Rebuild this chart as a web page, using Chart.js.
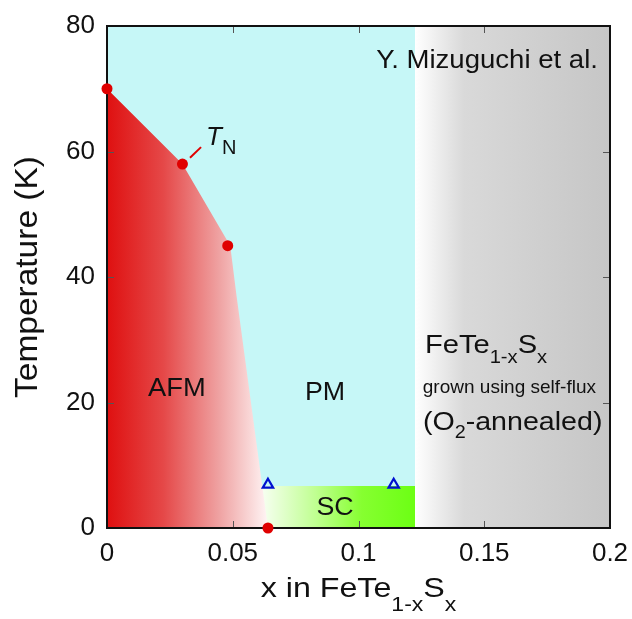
<!DOCTYPE html>
<html>
<head>
<meta charset="utf-8">
<script src="https://cdn.jsdelivr.net/npm/chart.js@4.4.1/dist/chart.umd.min.js"></script>
<style>
  html, body { margin: 0; padding: 0; background: #fff; }
  #wrap { width: 632px; height: 619px; }
</style>
</head>
<body>
<div id="wrap"><canvas id="c" width="632" height="619"></canvas></div>
<script>
// Phase diagram of FeTe(1-x)S(x) single crystals grown from self-flux, O2-annealed.

// Néel temperature T_N (K) vs sulfur content x
const tnX = [0, 0.030, 0.048, 0.064];
const tnT = [70, 58, 45, 0];

// Superconducting onset T_c (K)
const tcX = [0.064, 0.114];
const tcT = [6.9, 6.9];

// Phase boundaries
const afmEdgeX = [0, 0.030, 0.049, 0.0515, 0.064];
const afmEdgeT = [70, 58, 45, 37, 0];
const scEdgeX = [0.0615, 0.1225];
const scTopT = 6.7;
const pmLimitX = 0.1225;

// Axes
const xMin = 0, xMax = 0.2;
const tMin = 0, tMax = 80;
const xTicks = [0, 0.05, 0.1, 0.15, 0.2];
const tTicks = [0, 20, 40, 60, 80];

const FONT = '"Liberation Sans", Arial, Helvetica, sans-serif';

const pts = (xs, ys) => xs.map((x, i) => ({ x, y: ys[i] }));

// horizontal gradient between two x-values, built on the chart's own x scale
function hGradient(x0, x1, stops, fallback) {
  return (context) => {
    const chart = context.chart;
    const area = chart.chartArea;
    const sx = chart.scales.x;
    if (!area || !sx) return fallback;
    const g = chart.ctx.createLinearGradient(sx.getPixelForValue(x0), 0, sx.getPixelForValue(x1), 0);
    stops.forEach(([o, c]) => g.addColorStop(o, c));
    return g;
  };
}

const regionBase = { showLine: true, borderWidth: 0, pointRadius: 0, pointHoverRadius: 0, tension: 0, fill: 'origin' };

const datasets = [
  { // T_c markers
    label: 'Tc', type: 'scatter', data: pts(tcX, tcT),
    pointStyle: 'triangle', pointRadius: 6, borderColor: '#0010d0', borderWidth: 2.2,
    backgroundColor: 'rgba(0,0,0,0)', clip: false
  },
  { // T_N markers
    label: 'TN', type: 'scatter', data: pts(tnX, tnT),
    pointRadius: 5.5, backgroundColor: '#e00000', borderWidth: 0, clip: false
  },
  Object.assign({ // AFM region
    label: 'AFM', type: 'line', data: pts(afmEdgeX, afmEdgeT),
    backgroundColor: hGradient(0, 0.064, [[0, '#df1010'], [0.35, '#e54848'], [0.7, '#efa3a3'], [1, '#fff5f5']], '#e86060')
  }, regionBase),
  Object.assign({ // SC region
    label: 'SC', type: 'line', data: pts(scEdgeX, [scTopT, scTopT]),
    backgroundColor: hGradient(0.062, 0.1225, [[0, '#f6fff0'], [0.35, '#bfff90'], [0.65, '#86ff30'], [1, '#6cff14']], '#90ff40')
  }, regionBase),
  Object.assign({ // grey region beyond the solubility range
    label: 'out', type: 'line', data: pts([pmLimitX, xMax], [tMax, tMax]),
    backgroundColor: hGradient(pmLimitX, xMax, [[0, '#ffffff'], [0.25, '#d9d9d9'], [0.6, '#d0d0d0'], [1, '#c6c6c6']], '#d0d0d0')
  }, regionBase),
  Object.assign({ // PM region
    label: 'PM', type: 'line', data: pts([xMin, pmLimitX], [tMax, tMax]),
    backgroundColor: '#c6f7f7'
  }, regionBase)
];

// annotations placed in data coordinates; parts are [text, size, baseline shift, style]
const notes = [
  { text: [['Y. Mizuguchi et al.', 26]], x: 0.1952, y: 73.3, align: 'right', sx: 1.06 },
  { text: [['AFM', 26]], x: 0.0278, y: 21.0, align: 'center', sx: 1.05 },
  { text: [['PM', 26]], x: 0.0867, y: 20.4, align: 'center', sx: 1.03 },
  { text: [['SC', 26]], x: 0.0907, y: 2.1, align: 'center', sx: 1.03 },
  { text: [['FeTe', 26], ['1-x', 18, 10], ['S', 26], ['x', 18, 10]], x: 0.1264, y: 27.9, align: 'left', sx: 1.12 },
  { text: [['grown using self-flux', 19]], x: 0.1600, y: 21.5, align: 'center', sx: 1.0 },
  { text: [['(O', 26], ['2', 18, 8], ['-annealed)', 26]], x: 0.1256, y: 15.6, align: 'left', sx: 1.1 },
  { text: [['T', 26, 0, 'italic'], ['N', 20, 9]], x: 0.0394, y: 61.0, align: 'left', sx: 1.0 }
];
const leader = { x: [0.0330, 0.0374], y: [59.0, 60.7] };

// draws a run of text pieces (with sub/superscript shifts), stretched horizontally by sx
function drawRich(ctx, parts, x, y, align, sx) {
  sx = sx || 1;
  const widths = parts.map(([t, s, dy, st]) => {
    ctx.font = (st || '') + ' ' + s + 'px ' + FONT;
    return ctx.measureText(t).width;
  });
  const total = widths.reduce((a, b) => a + b, 0) * sx;
  const x0 = align === 'center' ? x - total / 2 : align === 'right' ? x - total : x;
  ctx.save();
  ctx.translate(x0, y);
  ctx.scale(sx, 1);
  ctx.textAlign = 'left';
  ctx.textBaseline = 'alphabetic';
  let cx = 0;
  parts.forEach(([t, s, dy, st], i) => {
    ctx.font = (st || '') + ' ' + s + 'px ' + FONT;
    ctx.fillText(t, cx, dy || 0);
    cx += widths[i];
  });
  ctx.restore();
}

const framePlugin = {
  id: 'frame',
  afterDatasetDraw(chart, args) {
    // frame and inward ticks go above the filled regions but under the markers
    if (args.index !== 2) return;
    const { ctx, chartArea: a, scales } = chart;
    ctx.save();
    ctx.strokeStyle = '#555';
    ctx.lineWidth = 1;
    const L = 7;
    ctx.beginPath();
    xTicks.slice(1, -1).forEach(v => {
      const p = Math.round(scales.x.getPixelForValue(v)) + 0.5;
      ctx.moveTo(p, a.bottom); ctx.lineTo(p, a.bottom - L);
      ctx.moveTo(p, a.top); ctx.lineTo(p, a.top + L);
    });
    tTicks.slice(1, -1).forEach(v => {
      const p = Math.round(scales.y.getPixelForValue(v)) + 0.5;
      ctx.moveTo(a.left, p); ctx.lineTo(a.left + L, p);
      ctx.moveTo(a.right, p); ctx.lineTo(a.right - L, p);
    });
    ctx.stroke();
    ctx.strokeStyle = '#111';
    ctx.lineWidth = 2;
    ctx.strokeRect(a.left, a.top, a.right - a.left, a.bottom - a.top);
    ctx.restore();
  },
  afterDraw(chart) {
    const { ctx, chartArea: a, scales } = chart;
    ctx.save();
    ctx.fillStyle = '#111';
    notes.forEach(n => drawRich(ctx, n.text, scales.x.getPixelForValue(n.x), scales.y.getPixelForValue(n.y), n.align, n.sx));

    // T_N leader line
    ctx.strokeStyle = '#e00000';
    ctx.lineWidth = 2;
    ctx.beginPath();
    ctx.moveTo(scales.x.getPixelForValue(leader.x[0]), scales.y.getPixelForValue(leader.y[0]));
    ctx.lineTo(scales.x.getPixelForValue(leader.x[1]), scales.y.getPixelForValue(leader.y[1]));
    ctx.stroke();

    // axis titles
    ctx.fillStyle = '#111';
    drawRich(ctx, [['x in FeTe', 28], ['1-x', 20, 14], ['S', 28], ['x', 20, 14]], (a.left + a.right) / 2, a.bottom + 69, 'center', 1.15);
    ctx.translate(a.left - 70, (a.top + a.bottom) / 2);
    ctx.rotate(-Math.PI / 2);
    drawRich(ctx, [['Temperature (K)', 31]], 0, 0, 'center', 1.08);
    ctx.restore();
  }
};

new Chart(document.getElementById('c'), {
  type: 'scatter',
  data: { datasets },
  options: {
    responsive: false,
    animation: false,
    devicePixelRatio: 1,
    layout: { padding: { left: 0, right: 22, top: 26, bottom: 0 } },
    plugins: { legend: { display: false }, tooltip: { enabled: false }, filler: { propagate: false } },
    scales: {
      x: {
        type: 'linear', min: xMin, max: xMax,
        afterBuildTicks: s => { s.ticks = xTicks.map(v => ({ value: v })); },
        afterFit: s => { s.height = 91; s.paddingLeft = 0; s.paddingRight = 0; },
        grid: { display: false, drawTicks: false },
        border: { display: false },
        ticks: { padding: 10, color: '#111', font: { family: FONT, size: 26 }, maxRotation: 0,
                 callback: v => String(+v.toFixed(3)) }
      },
      y: {
        type: 'linear', min: tMin, max: tMax,
        afterBuildTicks: s => { s.ticks = tTicks.map(v => ({ value: v })); },
        afterFit: s => { s.width = 107; s.paddingTop = 0; s.paddingBottom = 0; },
        grid: { display: false, drawTicks: false },
        border: { display: false },
        ticks: { padding: 12, color: '#111', font: { family: FONT, size: 26 } }
      }
    }
  },
  plugins: [framePlugin]
});
</script>
</body>
</html>
